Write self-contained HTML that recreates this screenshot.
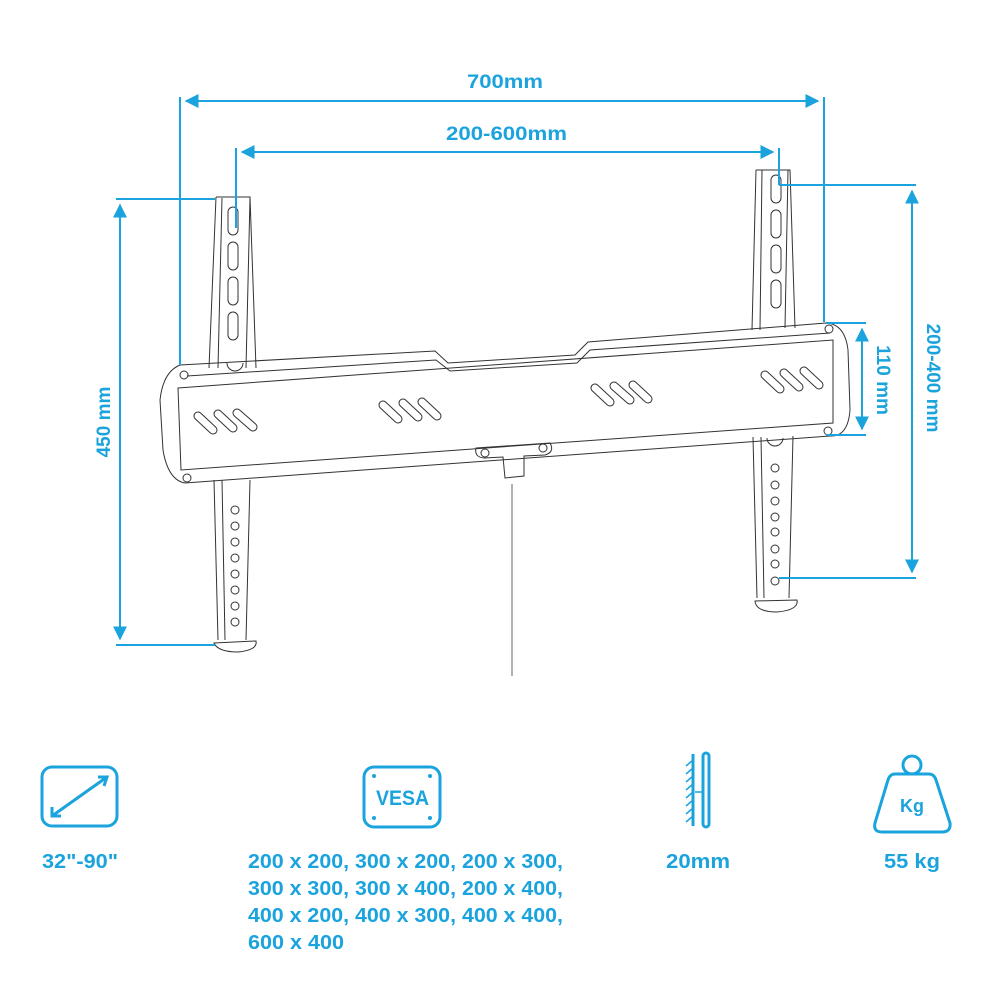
<!DOCTYPE html>
<html><head><meta charset="utf-8"><style>
html,body{margin:0;padding:0;background:#fff;}
svg{display:block;}
text{font-family:"Liberation Sans",sans-serif;font-weight:bold;fill:#1aa3dc;}
</style></head><body>
<svg width="1000" height="1000" viewBox="0 0 1000 1000" xmlns="http://www.w3.org/2000/svg">
<defs>
<marker id="a" viewBox="0 0 10 10" refX="9" refY="5" markerWidth="7" markerHeight="7" orient="auto-start-reverse"><path d="M0,0 L10,5 L0,10 z" fill="#1aa3dc"/></marker>
</defs>
<g fill="none" stroke="#333" stroke-width="1">
<path d="M216,197 L209,368 M222,198 L218,368 M216,197 L250,197 L256,368 M250,198 L246,368"/>
<rect x="228" y="207" width="10" height="28" rx="5"/><rect x="228" y="242" width="10" height="28" rx="5"/><rect x="228" y="277" width="10" height="28" rx="5"/><rect x="228" y="312" width="10" height="28" rx="5"/>
<path d="M227,363 a8,8 0 0 0 16,0"/>
<path d="M214,480 L218,640 M250,480 L246,640 M222,480 L225,640"/>
<circle cx="235" cy="510" r="4"/><circle cx="235" cy="526" r="4"/><circle cx="235" cy="542" r="4"/><circle cx="235" cy="558" r="4"/><circle cx="235" cy="574" r="4"/><circle cx="235" cy="590" r="4"/><circle cx="235" cy="606" r="4"/><circle cx="235" cy="622" r="4"/>
<path d="M214,643 L256,641 Q258,650 238,652 Q218,652 214,643z"/>
<path d="M756,170 L752,330 M762,170 L760,330 M756,170 L790,170 L795,328 M788,170 L785,328"/>
<rect x="771" y="175" width="10" height="28" rx="5"/><rect x="771" y="210" width="10" height="28" rx="5"/><rect x="771" y="245" width="10" height="28" rx="5"/><rect x="771" y="280" width="10" height="28" rx="5"/>
<path d="M753,437 L757,598 M793,436 L789,598 M761,437 L764,598 M767,438 a8,8 0 0 0 16,0"/>
<circle cx="775" cy="468" r="4"/><circle cx="775" cy="485" r="4"/><circle cx="775" cy="501" r="4"/><circle cx="775" cy="517" r="4"/><circle cx="775" cy="532" r="4"/><circle cx="775" cy="549" r="4"/><circle cx="775" cy="564" r="4"/><circle cx="775" cy="581" r="4"/>
<path d="M755,601 L797,600 Q799,610 777,612 Q756,612 755,601z"/>
<path d="M180,365 L435,351 L448,363 L575,355 L588,342 L826,323 Q845,324 848,350 L850,410 Q848,437 830,436 L185,483 Q168,480 163,450 L160,400 Q163,372 180,365z"/>
<path d="M187,376 L436,360 L450,371 L577,363 L590,350 L830,333"/>
<path d="M178,388 L833,340 L833,423 L181,470z"/>
<circle cx="184" cy="375" r="4"/><circle cx="187" cy="478" r="4"/><circle cx="829" cy="329" r="4"/><circle cx="828" cy="431" r="4"/>
<g stroke-linecap="round" stroke-width="9" stroke="#333"><path d="M198,416 L213,430 M218,414 L233,428 M237,413 L253,427 M383,405 L398,419 M403,403 L418,417 M422,402 L437,416 M595,388 L610,402 M614,386 L630,400 M633,385 L648,399 M765,375 L780,389 M784,373 L799,387 M804,371 L819,385"/></g>
<g stroke-linecap="round" stroke-width="7" stroke="#fff"><path d="M198,416 L213,430 M218,414 L233,428 M237,413 L253,427 M383,405 L398,419 M403,403 L418,417 M422,402 L437,416 M595,388 L610,402 M614,386 L630,400 M633,385 L648,399 M765,375 L780,389 M784,373 L799,387 M804,371 L819,385"/></g>
<path d="M476,448 L550,443 Q555,452 545,455 L524,456 L524,476 L505,478 L503,457 L484,458 Q474,457 476,448z"/>
<circle cx="485" cy="453" r="4"/><circle cx="543" cy="448" r="4"/>
<path d="M512,484 L512,676" stroke="#666"/>
</g>
<g stroke="#1aa3dc" stroke-width="2" fill="none">
<path d="M180,97 V365 M824,97 V322"/>
<path d="M186,101 H818" marker-start="url(#a)" marker-end="url(#a)"/>
<path d="M236,148 V228 M779,148 V185"/>
<path d="M242,152 H773" marker-start="url(#a)" marker-end="url(#a)"/>
<path d="M116,199 H215 M116,645 H215"/>
<path d="M120,205 V639" marker-start="url(#a)" marker-end="url(#a)"/>
<path d="M779,185 H916 M779,578 H916"/>
<path d="M912,191 V572" marker-start="url(#a)" marker-end="url(#a)"/>
<path d="M826,323 H866 M826,435 H866"/>
<path d="M862,329 V429" marker-start="url(#a)" marker-end="url(#a)"/>
</g>
<text x="467" y="88" font-size="19" textLength="76" lengthAdjust="spacingAndGlyphs">700mm</text>
<text x="446" y="140" font-size="19" textLength="121" lengthAdjust="spacingAndGlyphs">200-600mm</text>
<text transform="translate(110,422) rotate(-90)" font-size="19" text-anchor="middle">450 mm</text>
<text transform="translate(927,378) rotate(90)" font-size="19" text-anchor="middle">200-400 mm</text>
<text transform="translate(877,380) rotate(90)" font-size="19" text-anchor="middle">110 mm</text>
<g stroke="#1aa3dc" stroke-width="3" fill="none">
<rect x="42" y="767" width="75" height="59" rx="10"/>
<path d="M52,816 L107,777"/>
<path d="M98,777 L107,777 L104,786 M52,807 L52,816 L61,816"/>
<rect x="364" y="767" width="76" height="60" rx="10"/>
<path d="M693,754 V826"/>
<path d="M693,760 l-7,6 M693,768 l-7,6 M693,776 l-7,6 M693,784 l-7,6 M693,792 l-7,6 M693,800 l-7,6 M693,808 l-7,6 M693,816 l-7,6" stroke-width="1.5"/>
<rect x="703" y="753" width="6" height="74" rx="3"/>
<path d="M695,792 H702" stroke-width="1.5"/>
<circle cx="912" cy="765" r="9"/>
<path d="M895,774 H929 Q934,774 936,780 L950,823 Q951,832 942,832 H882 Q873,832 875,823 L888,780 Q890,774 895,774z"/>
</g>
<g fill="#1aa3dc"><circle cx="374" cy="776" r="2"/><circle cx="430" cy="776" r="2"/><circle cx="374" cy="818" r="2"/><circle cx="430" cy="818" r="2"/></g>
<text x="376" y="805" font-size="21" textLength="53" lengthAdjust="spacingAndGlyphs">VESA</text>
<text x="912" y="812" font-size="18" text-anchor="middle">Kg</text>
<text x="42" y="868" font-size="20" textLength="76" lengthAdjust="spacingAndGlyphs">32"-90"</text>
<g font-size="20"><text x="248" y="868" textLength="315" lengthAdjust="spacingAndGlyphs">200 x 200, 300 x 200, 200 x 300,</text><text x="248" y="895" textLength="315" lengthAdjust="spacingAndGlyphs">300 x 300, 300 x 400, 200 x 400,</text><text x="248" y="922" textLength="315" lengthAdjust="spacingAndGlyphs">400 x 200, 400 x 300, 400 x 400,</text><text x="248" y="949" textLength="96" lengthAdjust="spacingAndGlyphs">600 x 400</text></g>
<text x="666" y="868" font-size="20" textLength="64" lengthAdjust="spacingAndGlyphs">20mm</text>
<text x="884" y="868" font-size="20" textLength="56" lengthAdjust="spacingAndGlyphs">55 kg</text>
</svg>
</body></html>
